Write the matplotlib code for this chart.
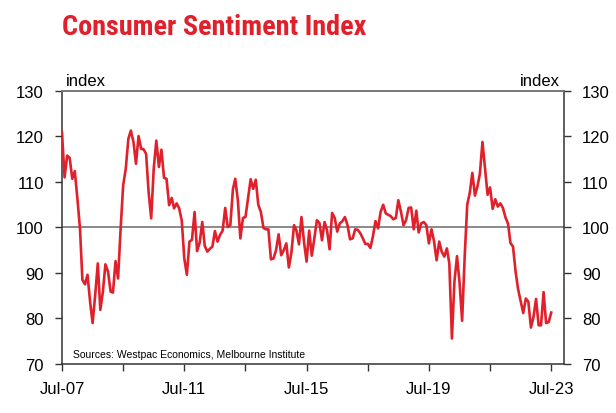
import numpy as np
import pandas as pd
import matplotlib
matplotlib.use("Agg")
import matplotlib.pyplot as plt
from matplotlib import font_manager

# Westpac-Melbourne Institute consumer sentiment, monthly Jul-07 .. Jul-23
start_month = "2007-07-01"
csi_2007_2009 = [121.0, 111.0, 115.8, 115.3, 110.7, 112.4, 106.4, 99.8, 88.5, 87.5, 89.6, 83.7,
                 79.0, 85.2, 92.1, 81.9, 85.9, 91.9, 90.3, 85.9, 85.7, 92.6, 88.8, 99.8,
                 109.3, 112.9, 119.5, 121.3, 118.8, 114.0, 120.1, 117.3, 117.2, 116.2, 107.8, 102.0]
csi_2010_2012 = [112.9, 119.1, 113.3, 117.1, 110.9, 110.7, 104.9, 106.5, 104.2, 105.3, 104.2, 101.5,
                 93.2, 89.6, 96.9, 97.3, 103.4, 94.8, 96.7, 101.2, 96.0, 94.7, 95.3, 95.8,
                 99.2, 96.9, 98.4, 99.3, 104.3, 100.1, 100.5, 108.4, 110.7, 106.0, 97.6, 102.1]
csi_2013_2015 = [102.3, 106.5, 110.6, 108.5, 110.5, 105.0, 103.4, 99.9, 99.6, 99.6, 93.0, 93.2,
                 95.0, 98.5, 93.9, 95.0, 96.5, 91.2, 94.5, 100.5, 99.4, 96.3, 102.3, 96.7,
                 92.5, 99.3, 93.8, 97.5, 101.6, 101.0, 97.2, 101.2, 99.4, 95.2, 103.2, 102.1]
csi_2016_2018 = [99.1, 100.9, 101.4, 102.3, 100.5, 97.4, 97.6, 99.6, 99.5, 98.8, 97.7, 96.4,
                 96.4, 95.5, 98.1, 101.4, 99.8, 103.4, 105.0, 103.1, 102.8, 102.5, 101.8, 102.1,
                 106.0, 103.5, 100.5, 101.6, 104.3, 104.4, 99.6, 103.7, 98.9, 100.9, 101.2, 100.5]
csi_2019_2021 = [96.5, 99.6, 96.9, 92.8, 96.9, 94.7, 93.6, 95.4, 92.1, 75.6, 88.1, 93.7,
                 87.9, 79.5, 93.8, 105.0, 107.7, 112.0, 107.0, 109.1, 111.8, 118.8, 113.1, 107.2,
                 108.8, 104.1, 106.2, 104.6, 105.3, 104.3, 102.2, 100.8, 96.6, 95.8, 90.4, 86.4]
csi_2022_2023 = [83.8, 81.2, 84.4, 83.7, 78.0, 80.3, 84.3, 78.5, 78.5, 85.8, 79.0, 79.2, 81.3]

csi = csi_2007_2009 + csi_2010_2012 + csi_2013_2015 + csi_2016_2018 + csi_2019_2021 + csi_2022_2023
months = pd.date_range(start_month, periods=len(csi), freq="MS")

y_ticks = [70, 80, 90, 100, 110, 120, 130]
x_labels = ["Jul-07", "Jul-11", "Jul-15", "Jul-19", "Jul-23"]

red = "#e0202b"
dark = "#333333"
plt.rcParams['font.family'] = ['Liberation Sans', 'DejaVu Sans']

# narrowest bold face we can find for the headline
installed = {f.name for f in font_manager.fontManager.ttflist}
title_font = "DejaVu Sans"
for name in ["Roboto Condensed", "Liberation Sans Narrow", "Open Sans Condensed"]:
    if name in installed:
        title_font = name
        break

fig = plt.figure(figsize=(6.16, 4.14), dpi=100)
ax = fig.add_axes([0.1006, 0.1184, 0.8150, 0.6594])

ax.axhline(100, color="#8a8a8a", lw=1.4, zorder=1)
ax.plot(months, csi, color=red, lw=1.9, zorder=3)

ax.set_ylim(70, 130)
ax.set_xlim(pd.Timestamp("2007-07-01"), pd.Timestamp("2023-12-01"))

# ticks every 2 years, labels every 4
major = pd.date_range("2007-07-01", "2023-07-01", freq="48MS")
minor = pd.date_range("2009-07-01", "2021-07-01", freq="48MS")
ax.set_xticks(major)
ax.set_xticklabels(x_labels)
ax.set_xticks(minor, minor=True)
ax.set_yticks(y_ticks)

ax.tick_params(axis="x", which="both", direction="out", length=5, width=1, color=dark,
               labelsize=12, pad=7)
ax.tick_params(axis="y", direction="out", length=5, width=1, color=dark, labelsize=12, pad=8)

for s in ["left", "bottom", "right"]:
    ax.spines[s].set_color(dark)
    ax.spines[s].set_linewidth(1.1)
ax.spines["top"].set_color("#777777")
ax.spines["top"].set_linewidth(1.4)

ax2 = ax.twinx()
ax2.set_ylim(70, 130)
ax2.set_yticks(y_ticks)
ax2.tick_params(axis="y", direction="out", length=5, width=1, color=dark, labelsize=12, pad=8)
for s in ax2.spines.values():
    s.set_visible(False)

ax.text(0.008, 1.012, "index", transform=ax.transAxes, fontsize=12, ha="left", va="bottom")
ax.text(0.992, 1.012, "index", transform=ax.transAxes, fontsize=12, ha="right", va="bottom")
ax.text(0.022, 0.026, "Sources: Westpac Economics, Melbourne Institute", transform=ax.transAxes,
        fontsize=7.5, ha="left", va="baseline")

title = fig.text(62 / 616, 1 - 35 / 414, "Consumer Sentiment Index", color=red, fontsize=21,
                 fontweight="bold", fontstretch="condensed", family=title_font,
                 ha="left", va="baseline")
# shrink the headline to the reference width (about 304 px)
fig.canvas.draw()
w = title.get_window_extent().width
if w > 304:
    title.set_fontsize(max(17, 21 * 304 / w))

fig.savefig("out.png", dpi=100)
